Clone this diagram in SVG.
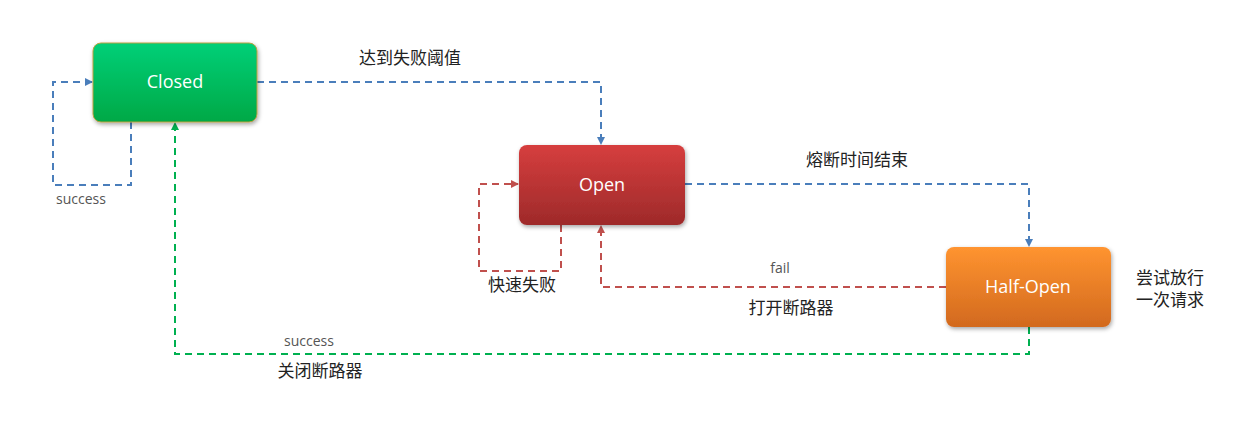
<svg xmlns="http://www.w3.org/2000/svg" width="1256" height="440" viewBox="0 0 1256 440">
<style>
.n{font-family:"Open Sans","Liberation Sans",sans-serif;font-size:18px;fill:#fff;text-anchor:middle}
.t{font-family:"Liberation Sans","Noto Sans CJK SC",sans-serif;font-size:17px;fill:#222;text-anchor:middle}
.s{font-family:"Open Sans","Liberation Sans",sans-serif;font-size:14px;fill:#555;text-anchor:middle}
.b{fill:none;stroke:#4a7ebb;stroke-width:2;stroke-dasharray:7,5}
.r{fill:none;stroke:#c0504d;stroke-width:2;stroke-dasharray:7,5}
.g{fill:none;stroke:#00b050;stroke-width:2;stroke-dasharray:7,5}
</style>
<defs>
<linearGradient id="gg" x1="0" y1="0" x2="0" y2="1"><stop offset="0" stop-color="#00d078"/><stop offset="1" stop-color="#00a846"/></linearGradient>
<linearGradient id="gr" x1="0" y1="0" x2="0" y2="1"><stop offset="0" stop-color="#d63e3e"/><stop offset="1" stop-color="#9e2a2a"/></linearGradient>
<linearGradient id="go" x1="0" y1="0" x2="0" y2="1"><stop offset="0" stop-color="#ff9430"/><stop offset="1" stop-color="#d2691e"/></linearGradient>
<filter id="sh"><feDropShadow dx="1" dy="2" stdDeviation="2" flood-opacity="0.35"/></filter>
<marker id="ab" markerWidth="8" markerHeight="8" refX="7" refY="4" orient="auto" markerUnits="userSpaceOnUse"><path d="M0,0L8,4L0,8z" fill="#4a7ebb"/></marker>
<marker id="ar" markerWidth="8" markerHeight="8" refX="7" refY="4" orient="auto" markerUnits="userSpaceOnUse"><path d="M0,0L8,4L0,8z" fill="#c0504d"/></marker>
<marker id="ag" markerWidth="8" markerHeight="8" refX="7" refY="4" orient="auto" markerUnits="userSpaceOnUse"><path d="M0,0L8,4L0,8z" fill="#00b050"/></marker>
</defs>
<g id="connectors">
<path class="b" d="M131,122V185H53V82H92" marker-end="url(#ab)"/>
<path class="b" d="M257,82H601V144" marker-end="url(#ab)"/>
<path class="b" d="M685,184H1029V246" marker-end="url(#ab)"/>
<path class="r" d="M561,225V271H479V184H518" marker-end="url(#ar)"/>
<path class="r" d="M946,287H601V226" marker-end="url(#ar)"/>
<path class="g" d="M1029,327V354H175V123" marker-end="url(#ag)"/>
<text class="t" x="410" y="64">达到失败阈值</text>
<text class="t" x="857" y="166">熔断时间结束</text>
<text class="s" x="780" y="273">fail</text>
<text class="t" x="791" y="314">打开断路器</text>
<text class="t" x="522" y="291">快速失败</text>
<text class="s" x="81" y="204">success</text>
<text class="s" x="309" y="346">success</text>
<text class="t" x="320" y="377">关闭断路器</text>
</g>
<g id="closed"><rect x="93" y="43" width="164" height="79" rx="8" fill="url(#gg)" stroke="#b8a040" stroke-width="1" filter="url(#sh)"/><text class="n" x="175" y="88">Closed</text></g>
<g id="open"><rect x="519" y="145" width="166" height="80" rx="8" fill="url(#gr)" filter="url(#sh)"/><text class="n" x="602" y="191">Open</text></g>
<g id="halfopen"><rect x="946" y="247" width="165" height="80" rx="8" fill="url(#go)" filter="url(#sh)"/><text class="n" x="1028" y="293">Half-Open</text></g>
<g id="note"><text class="t" x="1170" y="284">尝试放行</text><text class="t" x="1170" y="306">一次请求</text></g>
</svg>
